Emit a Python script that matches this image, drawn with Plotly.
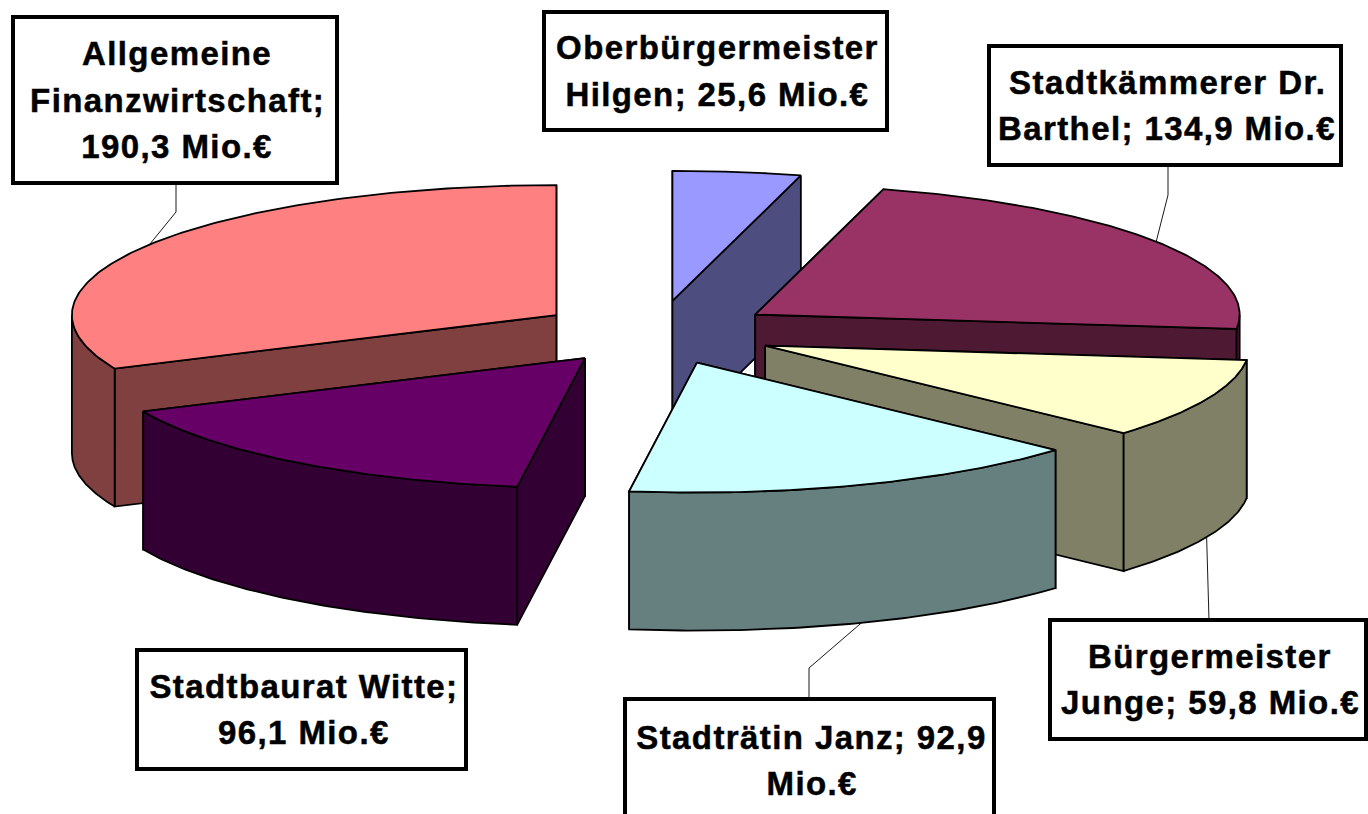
import numpy as np
import plotly.graph_objects as go

# --- data (clockwise from 12 o'clock, as in the source pie) ---
names = ["Oberbürgermeister Hilgen", "Stadtkämmerer Dr. Barthel", "Bürgermeister Junge",
         "Stadträtin Janz", "Stadtbaurat Witte", "Allgemeine Finanzwirtschaft"]
values = [25.6, 134.9, 59.8, 92.9, 96.1, 190.3]
top_colors = ["#9999FF", "#993366", "#FFFFCC", "#CCFFFF", "#660066", "#FF8080"]
side_colors = ["#4D4D80", "#4D1933", "#808066", "#668080", "#330033", "#804040"]
label_lines = [
    ["Oberbürgermeister", "Hilgen; 25,6 Mio.€"],
    ["Stadtkämmerer Dr.", "Barthel; 134,9 Mio.€"],
    ["Bürgermeister", "Junge; 59,8 Mio.€"],
    ["Stadträtin Janz; 92,9", "Mio.€"],
    ["Stadtbaurat Witte;", "96,1 Mio.€"],
    ["Allgemeine", "Finanzwirtschaft;", "190,3 Mio.€"],
]
# label box: left, top, right, bottom (pixels)
label_boxes = [(544, 12, 887, 130), (989, 46, 1341, 165), (1050, 620, 1366, 739),
               (625, 699, 994, 822), (137, 650, 466, 769), (13, 17, 337, 183)]
# leader: elbow then box anchor; None = no leader
leaders = [None, [(1168, 195), (1168, 165)], [(1209, 620)],
           [(809, 668), (809, 697)], None, [(176, 212), (176, 185)]]
# draw order (back to front)
draw_order = [5, 0, 1, 2, 3, 4]

# --- pie projection ---
CX, CY = 656.5, 332.5
RX, RY = 484.5, 130.0
EXPLODE = 0.246
DEPTH = 138.0
EDGE = dict(color="black", width=1.8)
FONT = dict(family="Liberation Sans, Arial, sans-serif", size=33, color="black")
LINE_STEP = 46.5
TEXT_DX, TEXT_DY = 2, 0

total = sum(values)
edges = np.concatenate([[0], np.cumsum(values)]) / total * 2 * np.pi
fig = go.Figure()


def add_poly(xs, ys, fill):
    fig.add_trace(go.Scatter(x=np.r_[xs, xs[0]], y=np.r_[ys, ys[0]], mode="lines", fill="toself",
                             fillcolor=fill, line=EDGE, hoverinfo="skip", showlegend=False))


def apex(i):
    mid = (edges[i] + edges[i + 1]) / 2
    return CX + EXPLODE * RX * np.sin(mid), CY - EXPLODE * RY * np.cos(mid)


def rim(i, t):
    ax, ay = apex(i)
    return ax + RX * np.sin(t), ay - RY * np.cos(t)


for i in draw_order:
    a0, a1 = edges[i], edges[i + 1]
    ax, ay = apex(i)
    faces = sorted([a0, a1], key=lambda t: rim(i, t)[1])
    for t in faces:
        px, py = rim(i, t)
        add_poly(np.array([ax, px, px, ax]), np.array([ay, py, py + DEPTH, ay + DEPTH]), side_colors[i])
    lo, hi = max(a0, np.pi / 2), min(a1, 3 * np.pi / 2)
    if hi > lo:
        t = np.linspace(lo, hi, 90)
        x, y = rim(i, t)
        add_poly(np.r_[x, x[::-1]], np.r_[y, y[::-1] + DEPTH], side_colors[i])
    t = np.linspace(a0, a1, 150)
    x, y = rim(i, t)
    add_poly(np.r_[ax, x], np.r_[ay, y], top_colors[i])

# leader lines start at the slice's mid-angle on its rim
for i, leader in enumerate(leaders):
    if leader is None:
        continue
    mid = (edges[i] + edges[i + 1]) / 2
    sx, sy = rim(i, mid)
    if np.cos(mid) < 0:
        sy += DEPTH
    xs = [sx] + [p[0] for p in leader]
    ys = [sy] + [p[1] for p in leader]
    fig.add_trace(go.Scatter(x=xs, y=ys, mode="lines", line=dict(color="black", width=0.9),
                             hoverinfo="skip", showlegend=False))

shapes, annotations = [], []
for lines, (l, t, r, b) in zip(label_lines, label_boxes):
    shapes.append(dict(type="rect", xref="x", yref="y", x0=l, x1=r, y0=t, y1=b, layer="above",
                       line=dict(color="black", width=4), fillcolor="white"))
    mid_y = (t + b) / 2
    for k, text in enumerate(lines):
        annotations.append(dict(xref="x", yref="y", x=(l + r) / 2 + TEXT_DX,
                                y=mid_y + TEXT_DY + (k - (len(lines) - 1) / 2) * LINE_STEP,
                                text=f"<b>{text}</b>", showarrow=False, xanchor="center", yanchor="middle",
                                font=FONT))

fig.update_layout(
    width=1368, height=814, margin=dict(l=0, r=0, t=0, b=0),
    paper_bgcolor="white", plot_bgcolor="white", showlegend=False,
    xaxis=dict(range=[0, 1368], visible=False, fixedrange=True),
    yaxis=dict(range=[814, 0], visible=False, fixedrange=True),
    shapes=shapes, annotations=annotations,
)
post = ("document.body.style.margin='0';document.body.style.overflow='hidden';"
        "document.querySelectorAll('.annotation-text').forEach(function(e){e.style.letterSpacing='1.4px';"
        "e.style.stroke='black';e.style.strokeWidth='0.5px';});")
fig.write_html("out.html", post_script=post, config={"displayModeBar": False})
